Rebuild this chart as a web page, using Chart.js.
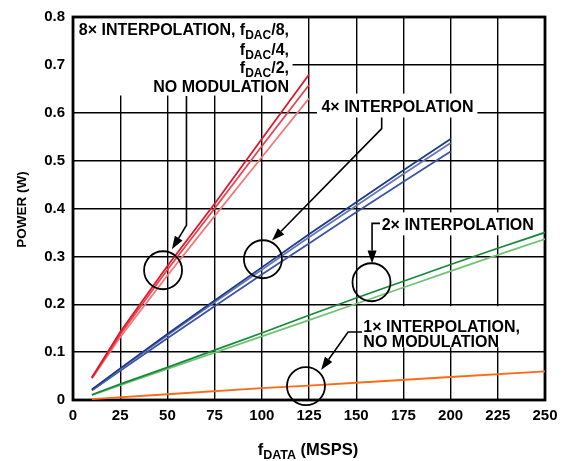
<!DOCTYPE html>
<html>
<head>
<meta charset="utf-8">
<script src="https://cdn.jsdelivr.net/npm/chart.js@4"></script>
<style>
  html, body { margin: 0; padding: 0; background: #ffffff; }
  canvas { display: block; }
</style>
</head>
<body>
<canvas id="c" width="569" height="461"></canvas>
<script>
// ---------- DATA ----------
const xTickLabels = ['0','25','50','75','100','125','150','175','200','225','250'];
const yTickLabels = ['0','0.1','0.2','0.3','0.4','0.5','0.6','0.7','0.8'];

const x8 = [10, 25, 50, 75, 100, 125];
const red1 = [0.047, 0.142, 0.280, 0.410, 0.545, 0.680];
const red2 = [0.046, 0.137, 0.272, 0.400, 0.530, 0.658];
const red3 = [0.045, 0.131, 0.260, 0.384, 0.507, 0.630];

const x4 = [10, 25, 50, 75, 100, 125, 150, 175, 200];
const blue1 = [0.022, 0.066, 0.138, 0.208, 0.277, 0.346, 0.413, 0.480, 0.545];
const blue2 = [0.021, 0.064, 0.135, 0.204, 0.272, 0.340, 0.406, 0.472, 0.537];
const blue3 = [0.020, 0.061, 0.129, 0.196, 0.262, 0.327, 0.392, 0.456, 0.519];

const x2 = [10, 25, 50, 75, 100, 125, 150, 175, 200, 225, 250];
const green1 = [0.011, 0.033, 0.068, 0.104, 0.140, 0.177, 0.213, 0.248, 0.283, 0.317, 0.350];
const green2 = [0.010, 0.031, 0.065, 0.099, 0.133, 0.167, 0.201, 0.235, 0.269, 0.303, 0.336];

const x1 = [10, 50, 100, 125, 150, 200, 250];
const orange1 = [0.002, 0.012, 0.025, 0.030, 0.036, 0.048, 0.060];

// ---------- helpers ----------
const FONT = "'Liberation Sans', Arial, Helvetica, sans-serif";
function pts(xs, ys) { return xs.map((x, i) => ({ x: x, y: ys[i] })); }
function ds(xs, ys, color) {
  return { data: pts(xs, ys), borderColor: color, backgroundColor: color,
           borderWidth: 1.8, pointRadius: 0, tension: 0, fill: false };
}

// annotation geometry in data units
const boxes = [
  { x0: 0,     x1: 116.3, y0: 0.8,   y1: 0.636 },
  { x0: 129.2, x1: 214.2, y0: 0.640, y1: 0.590 },
  { x0: 161.5, x1: 247.3, y0: 0.392, y1: 0.344 },
  { x0: 152.0, x1: 236.8, y0: 0.196, y1: 0.110 }
];
const circles = [
  { x: 47.7, y: 0.271 },
  { x: 100.6, y: 0.294 },
  { x: 158.1, y: 0.246 },
  { x: 123.4, y: 0.029 }
];
const arrows = [
  [[60.1, 0.635], [60.1, 0.365], [52.4, 0.315]],
  [[163.5, 0.590], [163.5, 0.567], [105.4, 0.333]],
  [[162.6, 0.369], [158.4, 0.369], [158.4, 0.285]],
  [[153.1, 0.142], [145.7, 0.142], [131.4, 0.0625]]
];

const annot = {
  id: 'annot',
  beforeDatasetsDraw(chart) {
    const ctx = chart.ctx, xs = chart.scales.x, ys = chart.scales.y, a = chart.chartArea;
    ctx.save();
    ctx.fillStyle = '#ffffff';
    boxes.forEach(b => {
      const l = xs.getPixelForValue(b.x0), r = xs.getPixelForValue(b.x1);
      const t = ys.getPixelForValue(b.y0), bt = ys.getPixelForValue(b.y1);
      ctx.fillRect(l, t, r - l, bt - t);
    });
    ctx.strokeStyle = '#000';
    ctx.lineWidth = 2.8;
    ctx.strokeRect(a.left, a.top, a.right - a.left, a.bottom - a.top);
    ctx.restore();
  },
  afterDatasetsDraw(chart) {
    const ctx = chart.ctx, xs = chart.scales.x, ys = chart.scales.y, a = chart.chartArea;
    const px = v => xs.getPixelForValue(v), py = v => ys.getPixelForValue(v);
    ctx.save();
    // circles
    ctx.strokeStyle = '#000';
    ctx.lineWidth = 1.8;
    circles.forEach(c => {
      ctx.beginPath();
      ctx.arc(px(c.x), py(c.y), 19, 0, Math.PI * 2);
      ctx.stroke();
    });
    // arrows
    ctx.lineWidth = 1.6;
    ctx.fillStyle = '#000';
    arrows.forEach(p => {
      const P = p.map(q => [px(q[0]), py(q[1])]);
      const n = P.length;
      const tip = P[n - 1], prev = P[n - 2];
      const ang = Math.atan2(tip[1] - prev[1], tip[0] - prev[0]);
      const L = 13, W = 4.5;
      const bx = tip[0] - L * Math.cos(ang), by = tip[1] - L * Math.sin(ang);
      ctx.beginPath();
      ctx.moveTo(P[0][0], P[0][1]);
      for (let i = 1; i < n - 1; i++) ctx.lineTo(P[i][0], P[i][1]);
      ctx.lineTo(bx, by);
      ctx.stroke();
      ctx.beginPath();
      ctx.moveTo(tip[0], tip[1]);
      ctx.lineTo(bx + W * Math.sin(ang), by - W * Math.cos(ang));
      ctx.lineTo(bx - W * Math.sin(ang), by + W * Math.cos(ang));
      ctx.closePath();
      ctx.fill();
    });

    // rich text drawing: parts [text, isSub]
    let MAIN = 16, SUB = 12;
    function partsWidth(parts) {
      let w = 0;
      parts.forEach(p => {
        ctx.font = 'bold ' + (p[1] ? SUB : MAIN) + 'px ' + FONT;
        w += ctx.measureText(p[0]).width;
      });
      return w;
    }
    function drawParts(parts, x, y, align) {
      let cx = align === 'right' ? x - partsWidth(parts) : (align === 'center' ? x - partsWidth(parts) / 2 : x);
      ctx.textAlign = 'left';
      ctx.textBaseline = 'alphabetic';
      parts.forEach(p => {
        ctx.font = 'bold ' + (p[1] ? SUB : MAIN) + 'px ' + FONT;
        ctx.fillText(p[0], cx, p[1] ? y + 4 : y);
        cx += ctx.measureText(p[0]).width;
      });
    }
    ctx.fillStyle = '#000';
    drawParts([['8× INTERPOLATION, f', 0], ['DAC', 1], ['/8,', 0]], px(114.4), py(0.762), 'right');
    drawParts([['f', 0], ['DAC', 1], ['/4,', 0]], px(114.4), py(0.721), 'right');
    drawParts([['f', 0], ['DAC', 1], ['/2,', 0]], px(114.4), py(0.683), 'right');
    drawParts([['NO MODULATION', 0]], px(114.4), py(0.644), 'right');
    drawParts([['4× INTERPOLATION', 0]], px(131.6), py(0.602), 'left');
    drawParts([['2× INTERPOLATION', 0]], px(163.5), py(0.356), 'left');
    drawParts([['1× INTERPOLATION,', 0]], px(153.8), py(0.142), 'left');
    drawParts([['NO MODULATION', 0]], px(153.8), py(0.110), 'left');

    // axis titles
    MAIN = 16.5; SUB = 12.5;
    drawParts([['f', 0], ['DATA', 1], [' (MSPS)', 0]], (a.left + a.right) / 2 - 1, 455, 'center');
    ctx.save();
    ctx.translate(26, (a.top + a.bottom) / 2 + 1);
    ctx.rotate(-Math.PI / 2);
    ctx.font = 'bold 13.5px ' + FONT;
    ctx.textAlign = 'center';
    ctx.textBaseline = 'alphabetic';
    ctx.fillText('POWER (W)', 0, 0);
    ctx.restore();
    ctx.restore();
  }
};

new Chart(document.getElementById('c'), {
  type: 'line',
  data: {
    datasets: [
      ds(x8, red1, '#e2162a'),
      ds(x8, red2, '#e84350'),
      ds(x8, red3, '#f07a78'),
      ds(x4, blue1, '#1f3a8c'),
      ds(x4, blue2, '#6677b8'),
      ds(x4, blue3, '#3b54a3'),
      ds(x2, green1, '#17893a'),
      ds(x2, green2, '#72c274'),
      ds(x1, orange1, '#ff6a14')
    ]
  },
  options: {
    responsive: false,
    animation: false,
    events: [],
    layout: { padding: { left: 0, right: 24, top: 16, bottom: 0 } },
    plugins: { legend: { display: false }, tooltip: { enabled: false }, title: { display: false } },
    scales: {
      x: {
        type: 'linear', min: 0, max: 250,
        afterFit(s) { s.height = 61; },
        grid: { color: '#000', lineWidth: 1.4, drawTicks: false },
        border: { display: false },
        ticks: {
          stepSize: 25, padding: 7, color: '#000', maxRotation: 0, autoSkip: false,
          font: { family: FONT, size: 15, weight: 'bold' },
          callback: (v, i) => xTickLabels[i]
        }
      },
      y: {
        type: 'linear', min: 0, max: 0.8,
        afterFit(s) { s.width = 73; },
        grid: { color: '#000', lineWidth: 1.4, drawTicks: false },
        border: { display: false },
        ticks: {
          stepSize: 0.1, padding: 8, color: '#000', autoSkip: false,
          font: { family: FONT, size: 15, weight: 'bold' },
          callback: (v, i) => yTickLabels[i]
        }
      }
    }
  },
  plugins: [annot]
});
</script>
</body>
</html>
